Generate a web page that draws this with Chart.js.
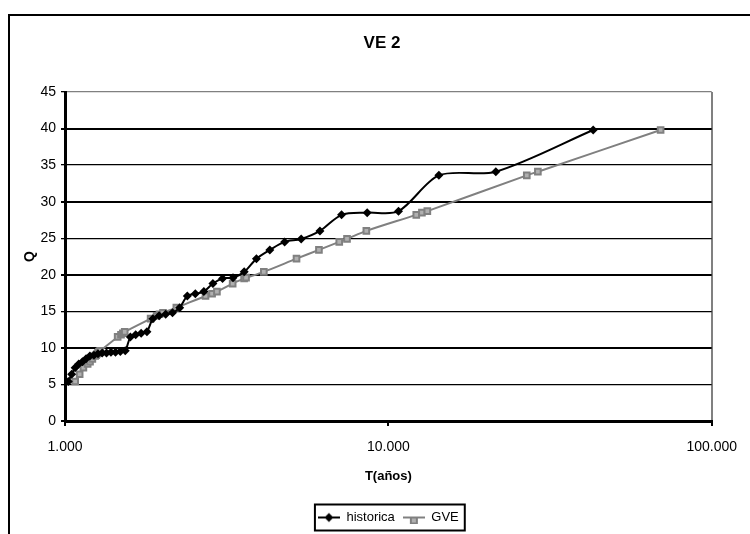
<!DOCTYPE html>
<html>
<head>
<meta charset="utf-8">
<script src="https://cdn.jsdelivr.net/npm/chart.js@4.4.1/dist/chart.umd.min.js"></script>
<style>
  body { margin: 0; background: #fff; }
  #wrap { position: relative; width: 750px; height: 534px; overflow: hidden; }
  #frame { position: absolute; left: 8px; top: 14px; width: 800px; height: 600px; border: 2px solid #000; }
  #chart { position: absolute; left: 0; top: 0; }
</style>
</head>
<body>
<div id="wrap"><div id="frame"></div><canvas id="chart" width="750" height="534"></canvas></div>
<script>
// historica: return period T (years) and discharge Q
const historicaT = [1.024, 1.049, 1.075, 1.103, 1.132, 1.162, 1.194, 1.229, 1.265, 1.303,
  1.344, 1.387, 1.433, 1.483, 1.536, 1.593, 1.654, 1.72, 1.792, 1.87,
  1.955, 2.048, 2.15, 2.263, 2.389, 2.529, 2.688, 2.867, 3.071, 3.308,
  3.583, 3.909, 4.3, 4.778, 5.375, 6.143, 7.167, 8.6, 10.75, 14.33, 21.5, 43];
const historicaQ = [5.4, 6.4, 7.3, 7.8, 8.1, 8.5, 8.9, 9.0, 9.2, 9.3,
  9.3, 9.4, 9.4, 9.5, 9.6, 11.5, 11.8, 12.0, 12.2, 14.0,
  14.4, 14.6, 14.8, 15.5, 17.1, 17.4, 17.7, 18.8, 19.5, 19.6,
  20.4, 22.2, 23.4, 24.5, 24.9, 26.0, 28.2, 28.5, 28.7, 33.6, 34.1, 39.8];

// GVE fit
const gveT = [1.075, 1.11, 1.14, 1.175, 1.195, 1.215, 1.24, 1.248, 1.258, 1.265,
  1.265, 1.272, 1.272, 1.278, 1.285, 1.455, 1.49, 1.51, 1.53, 1.84,
  1.92, 1.96, 2.01, 2.21, 2.72, 2.85, 2.95, 3.3, 3.58, 3.63,
  4.12, 5.2, 6.1, 7.05, 7.45, 8.55, 12.2, 12.7, 13.2, 26.8, 29.0, 69.5];
const gveQ = [5.4, 6.4, 7.3, 7.8, 8.1, 8.5, 8.9, 9.0, 9.2, 9.3,
  9.3, 9.4, 9.4, 9.5, 9.6, 11.5, 11.8, 12.0, 12.2, 14.0,
  14.4, 14.6, 14.8, 15.5, 17.1, 17.4, 17.7, 18.8, 19.5, 19.6,
  20.4, 22.2, 23.4, 24.5, 24.9, 26.0, 28.2, 28.5, 28.7, 33.6, 34.1, 39.8];

const xTickValues = [1, 10, 100];
const xTickLabels = ["1.000", "10.000", "100.000"];

const FONT = "'Liberation Sans', Arial, sans-serif";

function toPoints(xs, ys) {
  return xs.map((x, i) => ({ x: x, y: ys[i] }));
}

// little line + marker pictures for the legend
function legendSymbol(line, marker) {
  const c = document.createElement("canvas");
  c.width = 22; c.height = 12;
  const g = c.getContext("2d");
  g.strokeStyle = line; g.lineWidth = 2;
  g.beginPath(); g.moveTo(0, 6); g.lineTo(22, 6); g.stroke();
  if (marker === "diamond") {
    g.fillStyle = "#000";
    g.beginPath(); g.moveTo(11, 1.5); g.lineTo(15.5, 6); g.lineTo(11, 10.5); g.lineTo(6.5, 6); g.closePath(); g.fill();
  } else {
    g.fillStyle = "#b0b0b0"; g.strokeStyle = "#808080"; g.lineWidth = 2;
    g.fillRect(8, 6, 6, 6); g.strokeRect(8, 6, 6, 6);
  }
  return c;
}
const symbols = [legendSymbol("#000", "diamond"), legendSymbol("#808080", "square")];

const legendBox = {
  id: "legendBox",
  afterDraw(chart) {
    const lg = chart.legend;
    if (!lg || !lg.legendHitBoxes.length) return;
    const hb = lg.legendHitBoxes;
    const left = hb[0].left - 3;
    const right = hb[hb.length - 1].left + hb[hb.length - 1].width + 6;
    const cy = hb[0].top + hb[0].height / 2;
    const ctx = chart.ctx;
    ctx.save();
    ctx.strokeStyle = "#000";
    ctx.lineWidth = 2;
    ctx.strokeRect(left, cy - 13, right - left, 26);
    ctx.restore();
  }
};

new Chart(document.getElementById("chart"), {
  type: "line",
  data: {
    datasets: [
      {
        label: "historica",
        data: toPoints(historicaT, historicaQ),
        borderColor: "#000",
        backgroundColor: "#000",
        borderWidth: 2,
        tension: 0.3,
        pointStyle: "rectRot",
        pointRadius: 4.5,
        pointBorderWidth: 0,
        pointBackgroundColor: "#000"
      },
      {
        label: "GVE",
        data: toPoints(gveT, gveQ),
        borderColor: "#808080",
        backgroundColor: "#b0b0b0",
        borderWidth: 2,
        tension: 0.3,
        pointStyle: "rect",
        pointRadius: 4,
        pointBorderWidth: 2,
        pointBorderColor: "#808080",
        pointBackgroundColor: "#b0b0b0"
      }
    ]
  },
  options: {
    responsive: false,
    animation: false,
    layout: { padding: { left: 14, right: 0, top: 0, bottom: 0 } },
    plugins: {
      title: {
        display: true,
        text: "VE 2",
        color: "#000",
        font: { family: FONT, size: 17, weight: "bold" },
        padding: { top: 33, bottom: 38.6 }
      },
      legend: {
        position: "bottom",
        fullSize: false,
        labels: {
          color: "#000",
          font: { family: FONT, size: 13 },
          usePointStyle: true,
          pointStyleWidth: 22,
          padding: 8,
          generateLabels(chart) {
            const items = Chart.defaults.plugins.legend.labels.generateLabels(chart);
            items.forEach((it, i) => { it.pointStyle = symbols[i]; });
            return items;
          }
        }
      },
      tooltip: { enabled: false }
    },
    scales: {
      x: {
        type: "logarithmic",
        min: 1,
        max: 100,
        afterBuildTicks(scale) {
          scale.ticks = xTickValues.map(v => ({ value: v }));
        },
        afterFit(scale) { scale.height = 82; },
        ticks: {
          color: "#000",
          font: { family: FONT, size: 14 },
          padding: 13,
          maxRotation: 0,
          autoSkip: false,
          callback: (v) => xTickLabels[xTickValues.indexOf(v)]
        },
        grid: {
          color: (c) => (c.tick && c.tick.value === 100 ? "#808080" : "rgba(0,0,0,0)"),
          lineWidth: 2,
          tickColor: "#000",
          tickLength: 5
        },
        border: { display: true, color: "#000", width: 3 },
        title: {
          display: true,
          text: "T(años)",
          color: "#000",
          font: { family: FONT, size: 13, weight: "bold" },
          padding: { top: 0, bottom: 19 }
        }
      },
      y: {
        min: 0,
        max: 45,
        afterFit(scale) { scale.width = 51; },
        ticks: {
          stepSize: 5,
          color: "#000",
          font: { family: FONT, size: 14 },
          padding: 5
        },
        grid: {
          color: (c) => (c.tick && c.tick.value === 45 ? "#808080" : "#000"),
          lineWidth: (c) => (c.tick && c.tick.value % 10 === 0 ? 2 : 1.3),
          tickColor: "#000",
          tickLength: 4
        },
        border: { display: true, color: "#000", width: 3 },
        title: {
          display: true,
          text: "Q",
          color: "#000",
          font: { family: FONT, size: 14, weight: "bold" },
          padding: { top: 8, bottom: 0 }
        }
      },
      yR: {
        position: "right",
        min: 0,
        max: 45,
        afterFit(scale) { scale.width = 29; },
        ticks: { display: false },
        grid: { display: false },
        border: { display: false }
      }
    }
  },
  plugins: [legendBox]
});
</script>
</body>
</html>
